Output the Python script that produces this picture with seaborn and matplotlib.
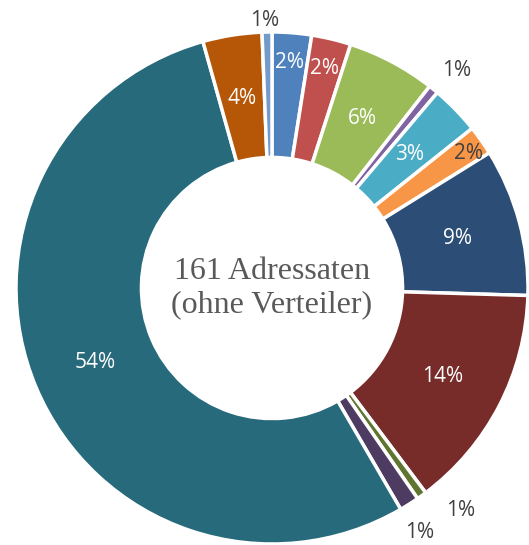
import numpy as np
import seaborn as sns
import matplotlib
matplotlib.use('Agg')
import matplotlib.pyplot as plt

# counts per group (161 addressees), clockwise from 12 o'clock
counts = [4, 4, 9, 1, 5, 3, 15, 23, 1, 2, 87, 6, 1]
colors = ['#4F81BD', '#C0504D', '#9BBB59', '#8064A2', '#4BACC6', '#F79646',
          '#2C4D75', '#772C2A', '#5F7530', '#4D3B62', '#276A7C', '#B65708',
          '#729ACA']
center_text = '161 Adressaten\n(ohne Verteiler)'

# label placement per slice: radius, extra angle (deg, clockwise), text colour
label_r = [0.885, 0.88, 0.75, 1.115, 0.75, 0.93, 0.75, 0.75, 1.14, 1.115, 0.75, 0.75, 1.047]
label_dang = [0, 0, 0, 1.3, 0, 0.8, 0, 0, -4.6, 1.2, 0, 0, -0.4]
dark = '#404040'
label_col = ['white', 'white', 'white', dark, 'white', dark, 'white', 'white',
             dark, dark, 'white', 'white', dark]

sns.set_theme(style='white')
plt.rcParams['font.family'] = ['Open Sans', 'DejaVu Sans']

fig = plt.figure(figsize=(5.29, 5.45), dpi=100)
ax = fig.add_axes([0, 0, 1, 1])

ax.pie(counts, colors=colors, startangle=90, counterclock=False, radius=1.0,
       wedgeprops=dict(width=0.49, edgecolor='white', linewidth=2.5))

total = sum(counts)
cum = np.cumsum([0] + counts)
for i, c in enumerate(counts):
    mid = (cum[i] + c / 2) / total * 360 + label_dang[i]
    th = np.deg2rad(90 - mid)
    pct = f'{round(c / total * 100):.0f}%'
    ax.text(label_r[i] * np.cos(th), label_r[i] * np.sin(th), pct,
            ha='center', va='center', fontsize=15, color=label_col[i])

ax.text(0, 0.0, center_text, ha='center', va='center', fontsize=23,
        color='#595959', family=['Liberation Serif', 'DejaVu Serif'],
        linespacing=1.22)

ax.set_xlim(-272 / 256, (529 - 272) / 256)
ax.set_ylim(-(545 - 288) / 256, 288 / 256)
ax.set_aspect('auto')
ax.axis('off')

fig.savefig('out.png', dpi=100)
